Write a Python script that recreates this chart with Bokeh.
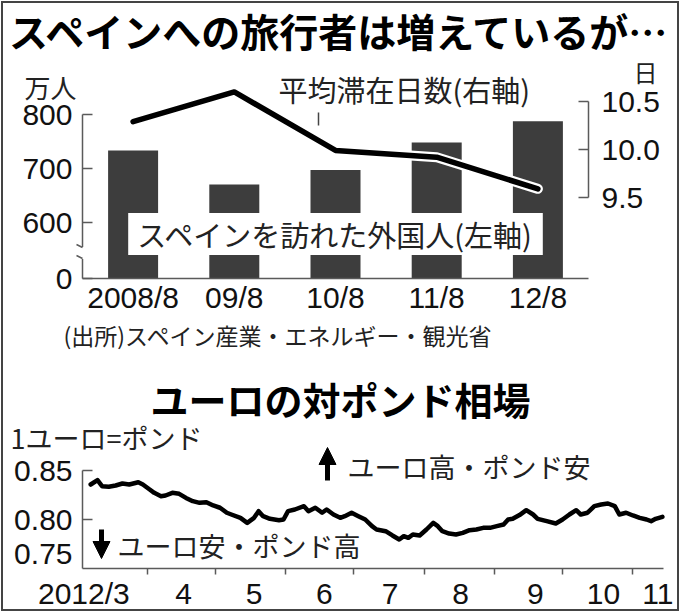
import pandas as pd
from bokeh.plotting import figure
from bokeh.models import (Range1d, LinearAxis, FixedTicker, NumeralTickFormatter,
                          Label, Arrow, NormalHead)
from bokeh.layouts import column
from bokeh.embed import file_html
from bokeh.resources import INLINE

JP = "Noto Sans CJK JP"
NUM = "Liberation Sans"

# ---------------- data: top chart ----------------
years = ["2008/8", "09/8", "10/8", "11/8", "12/8"]
visitors = [734, 671, 698, 749, 788]            # 万人 (left axis)
stay_days = [10.29, 10.60, 9.99, 9.92, 9.59]    # 日 (right axis)
visitor_ticks = [600, 700, 800]
stay_ticks = [9.5, 10.0, 10.5]

# ---------------- data: bottom chart ----------------
fx_dates = [
    "2012-03-07", "2012-03-10", "2012-03-12", "2012-03-15", "2012-03-18", "2012-03-21",
    "2012-03-24", "2012-03-28", "2012-03-30",
    "2012-04-02", "2012-04-04", "2012-04-07", "2012-04-09", "2012-04-12", "2012-04-15",
    "2012-04-18", "2012-04-21", "2012-04-24", "2012-04-27", "2012-04-30",
    "2012-05-03", "2012-05-06", "2012-05-08", "2012-05-12", "2012-05-15", "2012-05-18",
    "2012-05-20", "2012-05-22", "2012-05-25", "2012-05-29", "2012-05-31",
    "2012-06-02", "2012-06-05", "2012-06-09", "2012-06-11", "2012-06-14", "2012-06-17",
    "2012-06-19", "2012-06-22", "2012-06-25", "2012-06-27", "2012-06-30",
    "2012-07-03", "2012-07-06", "2012-07-09", "2012-07-11", "2012-07-15", "2012-07-18",
    "2012-07-21", "2012-07-23", "2012-07-25", "2012-07-27", "2012-07-30",
    "2012-08-02", "2012-08-05", "2012-08-07", "2012-08-09", "2012-08-12", "2012-08-15",
    "2012-08-18", "2012-08-21", "2012-08-24", "2012-08-27", "2012-08-30",
    "2012-09-02", "2012-09-05", "2012-09-07", "2012-09-09", "2012-09-12", "2012-09-15",
    "2012-09-18", "2012-09-20", "2012-09-24", "2012-09-28",
    "2012-10-01", "2012-10-04", "2012-10-07", "2012-10-09", "2012-10-12", "2012-10-15",
    "2012-10-18", "2012-10-21", "2012-10-24", "2012-10-26", "2012-10-29",
    "2012-11-01", "2012-11-04", "2012-11-07", "2012-11-09", "2012-11-11", "2012-11-14",
]
fx_values = [
    0.8357, 0.8401, 0.8340, 0.8334, 0.8347, 0.8367, 0.8357, 0.8380, 0.8357,
    0.8306, 0.8272, 0.8238, 0.8245, 0.8272, 0.8262, 0.8220, 0.8187, 0.8170, 0.8177, 0.8143,
    0.8120, 0.8069, 0.8051, 0.8017, 0.7966, 0.8017, 0.8085, 0.8034, 0.8007, 0.7993, 0.8000,
    0.8085, 0.8102, 0.8136, 0.8085, 0.8120, 0.8069, 0.8102, 0.8051, 0.8017, 0.8034, 0.8069,
    0.8034, 0.8000, 0.7932, 0.7898, 0.7881, 0.7837, 0.7796, 0.7830, 0.7813, 0.7847, 0.7837,
    0.7898, 0.7966, 0.7932, 0.7881, 0.7857, 0.7847, 0.7864, 0.7891, 0.7898, 0.7915, 0.7915,
    0.7932, 0.7949, 0.8000, 0.8007, 0.8045, 0.8095, 0.8051, 0.8007, 0.7983, 0.7959,
    0.8000, 0.8051, 0.8095, 0.8051, 0.8069, 0.8136, 0.8153, 0.8163, 0.8136, 0.8051, 0.8069,
    0.8041, 0.8017, 0.8000, 0.7983, 0.8007, 0.8027,
]
fx_ticks = [0.80, 0.85]
fx_base = 0.75
month_starts = ["2012-04-01", "2012-05-01", "2012-06-01", "2012-07-01",
                "2012-08-01", "2012-09-01", "2012-10-01", "2012-11-01"]
month_label_dates = ["2012-03-04", "2012-04-17", "2012-05-18", "2012-06-18", "2012-07-17",
                     "2012-08-17", "2012-09-19", "2012-10-19", "2012-11-12"]
month_labels = ["2012/3", "4", "5", "6", "7", "8", "9", "10", "11"]

ORIGIN = pd.Timestamp("2012-03-01")


def days(ds):
    return [int((pd.Timestamp(d) - ORIGIN).days) for d in ds]


# ---------------- layout (page pixels) ----------------
W, H = 680, 612
H1 = 356
H2 = H - H1
# top chart plot box
L1, R1, T1, B1 = 82, 588, 78, 278
BREAK = 497                 # value drawn at the broken baseline ("0")
PX100 = 54.0                # px per 100 (万人)
D10_PX, PX_DAY = 149, 96.0  # right axis: 10.0 at 149 px, 96 px per day
# bottom chart plot box
L2, R2, T2, B2 = 82, 663, 462, 568
X0PX, PXD = 76.57, 2.2688   # px of 2012-03-01, px per day
PX_UNIT = 980.0             # px per 1.0 (EUR/GBP)


def p1x(sx):
    return -0.5 + (sx - L1) / (R1 - L1) * 5


def p1y(sy):
    return BREAK + (B1 - sy) / PX100 * 100


def p1d(sy):
    return 10 + (D10_PX - sy) / PX_DAY


def p2x(sx):
    return (sx - X0PX) / PXD


def p2y(sy):
    return fx_base + (B2 - sy) / PX_UNIT


def add_label(p, x, y, text, size, font=JP, align="left", bold=False,
              color="#222", **kw):
    p.add_layout(Label(x=x, y=y, text=text, text_font=font,
                       text_font_size=f"{size}px", text_align=align,
                       text_baseline="middle", text_color=color,
                       text_font_style="bold" if bold else "normal", **kw))


def new_fig(h, xr, yr):
    p = figure(width=W, height=h, x_range=xr, y_range=yr,
               x_axis_location=None, y_axis_location=None,
               min_border=0, min_border_left=0, min_border_right=0,
               min_border_top=0, min_border_bottom=0,
               output_backend="svg", toolbar_location=None)
    p.xgrid.visible = False
    p.ygrid.visible = False
    p.outline_line_color = None
    p.background_fill_color = None
    p.border_fill_color = None
    return p


AX = "#5a5a5a"


def style_axis(a, size=30, standoff=8, tick_in=10):
    a.major_tick_in = tick_in
    a.major_tick_out = 0
    a.minor_tick_line_color = None
    a.axis_line_color = AX
    a.axis_line_width = 1.5
    a.major_tick_line_color = AX
    a.major_tick_line_width = 1.5
    a.major_label_text_font = NUM
    a.major_label_text_font_size = f"{size}px"
    a.major_label_text_color = "#111"
    a.major_label_standoff = standoff


# ================= top chart =================
p1 = new_fig(H1, Range1d(p1x(0), p1x(W)), Range1d(p1y(H1), p1y(0)))
p1.extra_y_ranges = {"days": Range1d(p1d(H1), p1d(0))}

idx = list(range(len(years)))
bar_w = 50 / ((R1 - L1) / 5)
p1.vbar(x=idx, top=visitors, bottom=BREAK, width=bar_w,
        fill_color="#3d3d3d", line_color=None)
p1.line(x=idx, y=stay_days, y_range_name="days", line_color="white",
        line_width=10, line_join="round", line_cap="round")
p1.line(x=idx, y=stay_days, y_range_name="days", line_color="black",
        line_width=5.5, line_join="round", line_cap="round")

xa = LinearAxis(ticker=FixedTicker(ticks=idx), fixed_location=BREAK,
                bounds=(-0.5, len(years) - 0.5))
style_axis(xa, standoff=2, tick_in=0)
xa.major_tick_line_color = None
xa.major_label_overrides = {i: y for i, y in zip(idx, years)}
p1.add_layout(xa, "below")

ya = LinearAxis(ticker=FixedTicker(ticks=[BREAK] + visitor_ticks),
                fixed_location=-0.5, bounds=(BREAK, max(visitor_ticks)))
style_axis(ya, standoff=10)
ya.major_label_overrides = {BREAK: "0"}
p1.add_layout(ya, "left")

ra = LinearAxis(y_range_name="days", ticker=FixedTicker(ticks=stay_ticks),
                formatter=NumeralTickFormatter(format="0.0"),
                fixed_location=len(years) - 0.5,
                bounds=(min(stay_ticks), max(stay_ticks)))
style_axis(ra, standoff=13)
p1.add_layout(ra, "right")

# axis break on the left axis
p1.add_layout(Label(x=-0.5, y=p1y(252.5), text="\u2003", text_font_size="11px",
                    text_align="center", text_baseline="middle",
                    background_fill_color="white"))
for y_a, y_b in ((247, 244), (258, 255)):
    p1.add_layout(Arrow(end=None, x_start=-0.5, y_start=p1y(y_a),
                        x_end=p1x(76), y_end=p1y(y_b),
                        line_color=AX, line_width=1.5))

# texts
add_label(p1, p1x(340), p1y(29), "スペインへの旅行者は増えているが…", 39,
          align="center", bold=True, color="#000")
add_label(p1, p1x(50), p1y(86), "万人", 26, align="center")
add_label(p1, p1x(278), p1y(88), "平均滞在日数(右軸)", 29)
add_label(p1, p1x(645), p1y(71), "日", 24, align="center")
p1.segment(x0=[p1x(318)], y0=[p1y(112)], x1=[p1x(318)], y1=[p1y(125)],
           line_color="#444", line_width=1.5)
p1.add_layout(Label(x=p1x(335), y=p1y(233.5), text="スペインを訪れた外国人(左軸)",
                    text_font=JP, text_font_size="29px", text_align="center",
                    text_baseline="middle", text_color="#222",
                    background_fill_color="white",
                    padding=dict(left=9, right=9, top=0, bottom=0)))
add_label(p1, p1x(63), p1y(334), "(出所)スペイン産業・エネルギー・観光省", 23)

# ================= bottom chart =================
fx_x = days(fx_dates)
p2 = new_fig(H2, Range1d(p2x(0), p2x(W)), Range1d(p2y(H), p2y(H1)))
p2.line(x=fx_x, y=fx_values, line_color="black", line_width=4.5,
        line_join="round", line_cap="round")

lab_days = days(month_label_dates)
xb = LinearAxis(ticker=FixedTicker(ticks=lab_days, minor_ticks=days(month_starts)),
                fixed_location=fx_base, bounds=(p2x(L2), p2x(R2)))
style_axis(xb, standoff=2, tick_in=0)
xb.major_tick_line_color = None
xb.minor_tick_in = 0
xb.minor_tick_out = 6
xb.minor_tick_line_color = AX
xb.minor_tick_line_width = 1.5
xb.major_label_overrides = {d: t for d, t in zip(lab_days, month_labels)}
p2.add_layout(xb, "below")

yb = LinearAxis(ticker=FixedTicker(ticks=fx_ticks),
                formatter=NumeralTickFormatter(format="0.00"),
                fixed_location=p2x(L2), bounds=(fx_base, max(fx_ticks)))
style_axis(yb, standoff=10)
p2.add_layout(yb, "left")

add_label(p2, p2x(72), p2y(553), "0.75", 30, font=NUM, align="right", color="#111")
add_label(p2, p2x(340), p2y(398), "ユーロの対ポンド相場", 38, align="center",
          bold=True, color="#000")
add_label(p2, p2x(10), p2y(437), "1ユーロ=ポンド", 27)
p2.add_layout(Arrow(end=NormalHead(size=17, fill_color="black", line_color="black"),
                    x_start=p2x(327), y_start=p2y(480), x_end=p2x(327), y_end=p2y(447),
                    line_color="black", line_width=5))
add_label(p2, p2x(347), p2y(466), "ユーロ高・ポンド安", 27)
p2.add_layout(Arrow(end=NormalHead(size=17, fill_color="black", line_color="black"),
                    x_start=p2x(101), y_start=p2y(529), x_end=p2x(101), y_end=p2y(558),
                    line_color="black", line_width=5))
add_label(p2, p2x(117), p2y(545), "ユーロ安・ポンド高", 27)

layout = column(p1, p2, styles={
    "background-color": "white",
    "box-shadow": "inset 0 0 0 1px #ffffff, inset 0 0 0 3px #444444",
})
open("out.html", "w").write(file_html(layout, INLINE))
